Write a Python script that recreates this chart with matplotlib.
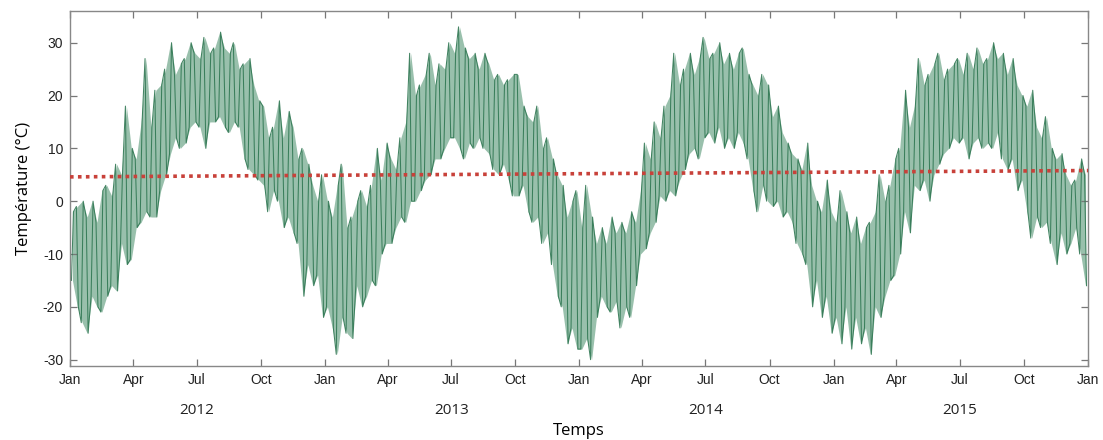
import numpy as np
import pandas as pd
import matplotlib
matplotlib.use("Agg")
import matplotlib.pyplot as plt
import matplotlib.dates as mdates
from matplotlib.transforms import blended_transform_factory

# ---- data (weekly high / low temperature envelopes) ----
years = [2012, 2013, 2014, 2015]

high_2012 = [-2, -1, 0, -3, 0, -4, 2, 3, 1, 7, 5, 18, 10,
             8, 15, 27, 14, 21, 22, 25, 30, 24, 26, 27, 30, 28,
             27, 31, 28, 29, 32, 29, 28, 30, 25, 26, 27, 22, 19,
             18, 12, 14, 19, 12, 17, 14, 8, 10, 7, 3, 0, 5]
low_2012 = [-15, -20, -23, -25, -18, -20, -21, -18, -16, -17, -8, -12, -11,
            -5, -4, -2, -3, -3, 2, 5, 9, 12, 10, 11, 14, 15,
            14, 10, 15, 15, 16, 14, 13, 15, 14, 8, 6, 5, 4,
            3, -2, 2, 0, -5, -3, -6, -8, -18, -12, -16, -14, -22]

high_2013 = [0, -3, 3, 7, -5, -3, 0, 2, -1, 3, 10, 4, 11,
             8, 6, 12, 15, 28, 20, 22, 24, 28, 22, 26, 25, 30,
             28, 33, 29, 27, 28, 25, 28, 26, 23, 24, 22, 23, 24,
             24, 18, 16, 15, 18, 10, 12, 8, 5, 3, -3, 0, 2]
low_2013 = [-20, -24, -29, -22, -25, -26, -16, -20, -18, -15, -16, -10, -8,
            -8, -5, -3, -4, 0, 0, 2, 4, 5, 8, 8, 10, 12,
            12, 10, 8, 11, 10, 12, 10, 9, 6, 5, 7, 4, 1,
            1, 3, -2, -4, -3, -8, -6, -12, -18, -20, -27, -24, -28]

high_2014 = [-5, 3, -3, -8, -5, -8, -3, -6, -4, -6, -2, -4, 2,
             11, 8, 15, 12, 18, 20, 28, 22, 25, 28, 24, 27, 31,
             27, 28, 30, 26, 28, 25, 28, 29, 24, 22, 20, 24, 22,
             16, 18, 13, 11, 9, 8, 6, 11, 3, 0, -2, 4, -2]
low_2014 = [-28, -26, -30, -22, -18, -20, -21, -19, -24, -20, -22, -16, -10,
            -9, -6, -4, 1, 0, 2, 1, 4, 6, 9, 10, 8, 12,
            13, 11, 14, 10, 12, 10, 13, 11, 8, 2, -2, 3, 0,
            -1, 0, -3, -2, -4, -8, -10, -12, -20, -15, -22, -18, -25]

high_2015 = [-4, 2, -2, -6, -3, -8, -5, -4, -2, 5, 0, 3, 8,
             10, 21, 14, 18, 27, 22, 24, 26, 28, 23, 25, 26, 27,
             24, 28, 25, 29, 26, 27, 30, 27, 28, 24, 27, 22, 20,
             18, 21, 14, 12, 16, 10, 8, 9, 5, 3, 4, 8, 5]
low_2015 = [-22, -27, -20, -28, -22, -27, -24, -29, -20, -22, -18, -15, -14,
            -10, -2, -6, 3, 2, 4, 0, 5, 7, 9, 10, 12, 11,
            12, 8, 11, 12, 10, 11, 10, 13, 8, 6, 8, 2, 4,
            -2, -7, -3, -5, -4, -8, -12, -6, -10, -8, -5, -10, -16]

trend_dates = ["2012-01-01", "2016-01-01"]
trend_values = [4.6, 5.8]

y_ticks = [-30, -20, -10, 0, 10, 20, 30]

highs = [high_2012, high_2013, high_2014, high_2015]
lows = [low_2012, low_2013, low_2014, low_2015]

# ---- build the series ----
xs, ys = [], []          # zigzag line through the weekly extremes
xc, hc, lc = [], [], []  # weekly centres for the band
for yr, hi, lo in zip(years, highs, lows):
    start = pd.Timestamp(yr, 1, 1)
    ylen = (pd.Timestamp(yr + 1, 1, 1) - start).days
    step = ylen / len(hi)
    for k in range(len(hi)):
        t0 = start + pd.to_timedelta(k * step, "D")
        xc.append(t0 + pd.to_timedelta(0.5 * step, "D"))
        hc.append(hi[k])
        lc.append(lo[k])
        if k % 2 == 0:
            pair = [(0.3, lo[k]), (0.7, hi[k])]
        else:
            pair = [(0.3, hi[k]), (0.7, lo[k])]
        for f, v in pair:
            xs.append(t0 + pd.to_timedelta(f * step, "D"))
            ys.append(v)

xs = pd.to_datetime(xs)
xc = pd.to_datetime(xc)

# ---- figure ----
fig = plt.figure(figsize=(11.03, 4.40), dpi=100)
ax = fig.add_axes([70 / 1103, 1 - 366 / 440, (1088 - 70) / 1103, (366 - 11) / 440])

ax.fill_between(xc, lc, hc, color="#6ea689", alpha=0.7, lw=0, zorder=1)
ax.plot(xs, ys, color="#2f7752", lw=0.75, alpha=0.9, zorder=2)
ax.plot(pd.to_datetime(trend_dates), trend_values, color="#c8413a",
        lw=2.6, linestyle=(0, (1, 1.2)), zorder=3)

ax.set_xlim(pd.Timestamp("2012-01-01"), pd.Timestamp("2016-01-01"))
ax.set_ylim(-31.2, 36)

tick_font = ["Liberation Sans", "DejaVu Sans"]
ax.xaxis.set_major_locator(mdates.MonthLocator(bymonth=[1, 4, 7, 10]))
ax.xaxis.set_major_formatter(mdates.DateFormatter("%b"))
ax.set_yticks(y_ticks)
ax.set_yticklabels([str(v) for v in y_ticks])
for lab in ax.get_xticklabels() + ax.get_yticklabels():
    lab.set_family(tick_font)
    lab.set_fontsize(10)
    lab.set_color("#222222")

ax.tick_params(direction="in", top=True, right=True, length=5, width=0.9,
               color="#777777", pad=5)
for s in ax.spines.values():
    s.set_color("#888888")
    s.set_linewidth(1.0)

trans = blended_transform_factory(ax.transData, ax.transAxes)
for yr in years:
    ax.text(pd.Timestamp(yr, 7, 1), -0.125, str(yr), transform=trans,
            ha="center", va="center", fontsize=11, family=["Open Sans", "DejaVu Sans"],
            color="#222222")

ax.set_xlabel("Temps", fontsize=12, family=["Open Sans", "DejaVu Sans"], labelpad=26)
ax.set_ylabel("Température (°C)", fontsize=12, family=["Open Sans", "DejaVu Sans"],
              labelpad=8)

fig.savefig("out.png", dpi=100)
